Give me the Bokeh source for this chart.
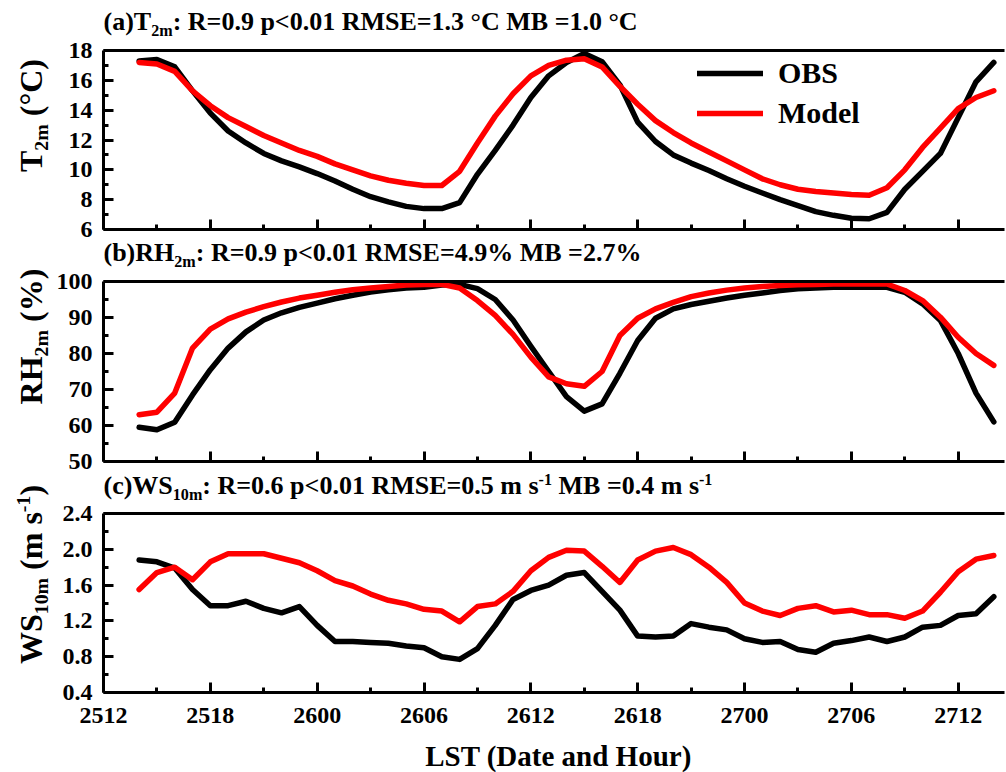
import math
from bokeh.plotting import figure
from bokeh.models import (Range1d, FixedTicker, Label, Legend, LegendItem,
                          NumeralTickFormatter, LinearAxis)
from bokeh.layouts import column, row
from bokeh.embed import file_html
from bokeh.resources import INLINE

# ---------------- data (hours after 25th 12:00 LST) ----------------
hours = [2, 3, 4, 5, 6, 7, 8, 9, 10, 11, 12, 13, 14, 15, 16, 17, 18, 19, 20, 21,
         22, 23, 24, 25, 26, 27, 28, 29, 30, 31, 32, 33, 34, 35, 36, 37, 38, 39, 40,
         41, 42, 43, 44, 45, 46, 47, 48, 49, 50]

t_obs = [17.3, 17.4, 16.9, 15.3, 13.8, 12.6, 11.8, 11.1, 10.6, 10.2, 9.75, 9.25, 8.7,
         8.2, 7.85, 7.55, 7.4, 7.4, 7.8, 9.7, 11.3, 13.0, 14.85, 16.3, 17.2, 17.8, 17.25,
         15.7, 13.2, 11.9, 11.0, 10.45, 9.95, 9.4, 8.9, 8.45, 8.0, 7.6, 7.2, 6.95, 6.75,
         6.72, 7.15, 8.7, 9.9, 11.1, 13.5, 15.9, 17.2]
t_mod = [17.2, 17.1, 16.6, 15.3, 14.3, 13.5, 12.9, 12.3, 11.8, 11.3, 10.9, 10.4, 10.0,
         9.6, 9.3, 9.1, 8.95, 8.95, 9.9, 11.8, 13.6, 15.1, 16.3, 17.0, 17.35, 17.45, 16.9,
         15.6, 14.4, 13.3, 12.5, 11.8, 11.2, 10.6, 10.0, 9.4, 9.0, 8.7, 8.55, 8.45, 8.35,
         8.3, 8.8, 10.0, 11.5, 12.8, 14.1, 14.85, 15.3]

rh_obs = [59.5, 58.8, 60.9, 68.5, 75.5, 81.5, 86.0, 89.3, 91.3, 92.8, 94.0, 95.2, 96.2,
          97.1, 97.7, 98.2, 98.4, 99.0, 99.2, 98.0, 95.0, 89.3, 82.0, 75.0, 68.0, 64.0,
          66.0, 74.5, 83.6, 89.8, 92.4, 93.6, 94.5, 95.4, 96.2, 96.8, 97.5, 98.0, 98.2,
          98.4, 98.4, 98.4, 98.4, 97.0, 93.8, 89.2, 80.0, 69.0, 61.0]
rh_mod = [63.0, 63.7, 69.0, 81.5, 86.8, 89.6, 91.5, 93.0, 94.3, 95.4, 96.2, 97.0, 97.7,
          98.2, 98.6, 99.0, 99.2, 99.2, 98.2, 94.7, 90.6, 85.3, 79.0, 73.5, 71.6, 70.9,
          75.0, 85.0, 89.8, 92.4, 94.2, 95.8, 96.8, 97.6, 98.2, 98.6, 98.9, 99.1, 99.2,
          99.3, 99.3, 99.3, 99.3, 97.5, 94.7, 90.1, 84.5, 80.0, 76.7]

ws_obs = [1.88, 1.86, 1.79, 1.55, 1.37, 1.37, 1.42, 1.34, 1.29, 1.36, 1.15, 0.97, 0.97,
          0.96, 0.95, 0.92, 0.90, 0.80, 0.77, 0.89, 1.15, 1.44, 1.54, 1.60, 1.71, 1.74,
          1.53, 1.32, 1.03, 1.02, 1.03, 1.17, 1.13, 1.10, 1.00, 0.96, 0.97, 0.88, 0.85,
          0.95, 0.98, 1.02, 0.97, 1.02, 1.13, 1.15, 1.26, 1.28, 1.47]
ws_mod = [1.55, 1.74, 1.80, 1.66, 1.86, 1.95, 1.95, 1.95, 1.90, 1.85, 1.76, 1.65, 1.59,
          1.50, 1.43, 1.39, 1.33, 1.31, 1.19, 1.36, 1.39, 1.53, 1.76, 1.91, 1.99, 1.98,
          1.81, 1.63, 1.88, 1.98, 2.02, 1.94, 1.80, 1.63, 1.40, 1.31, 1.26, 1.34, 1.37,
          1.30, 1.32, 1.27, 1.27, 1.23, 1.31, 1.52, 1.75, 1.89, 1.93]

x_tick_pos = [0, 6, 12, 18, 24, 30, 36, 42, 48]
x_tick_labels = ["2512", "2518", "2600", "2606", "2612", "2618", "2700", "2706", "2712"]
x_minor = [3, 9, 15, 21, 27, 33, 39, 45]

t_ticks = [6, 8, 10, 12, 14, 16, 18]
t_minor = [7, 9, 11, 13, 15, 17]
rh_ticks = [50, 60, 70, 80, 90, 100]
rh_minor = [55, 65, 75, 85, 95]
ws_ticks = [0.4, 0.8, 1.2, 1.6, 2.0, 2.4]
ws_minor = [0.6, 1.0, 1.4, 1.8, 2.2]

series_names = ["OBS", "Model"]
series_colors = ["#000000", "#ff0000"]

x_title = "LST (Date and Hour)"

# ---------------- styling helpers ----------------
FONT = "Liberation Serif"
WIDTH = 1006
HEIGHT = 772
YLAB_W = 52
MAIN_W = WIDTH - YLAB_W
FRAME_LEFT = 103
X_END = 50.6
MID = 0.34  # distance (em) from alphabetic baseline to the "middle" anchor

# Times-Bold advance widths (1/1000 em) for placing sub/superscripts
AW = {' ': 250, '(': 333, ')': 333, 'a': 500, 'b': 556, 'c': 444, 'd': 556, 'e': 444,
      'l': 278, 'm': 833, 'n': 556, 'o': 500, 'p': 556, 'r': 444, 's': 389, 't': 333,
      'u': 556, 'B': 667, 'C': 722, 'D': 722, 'E': 667, 'H': 778, 'L': 667, 'M': 944,
      'O': 778, 'R': 722, 'S': 556, 'T': 667, 'W': 1000, ':': 333, '=': 570, '.': 250,
      '<': 570, '%': 1000, '°': 400, '-': 333}


def text_w(s, size):
    return sum(AW.get(ch, 500) for ch in s) * size / 1000.0


def strip(w, h):
    s = figure(width=w, height=h, output_backend="svg", toolbar_location=None,
               x_range=Range1d(0, w), y_range=Range1d(0, h),
               x_axis_type=None, y_axis_type=None,
               min_border=0, min_border_left=0, min_border_right=0,
               min_border_top=0, min_border_bottom=0)
    s.outline_line_color = None
    s.background_fill_color = "white"
    s.border_fill_color = "white"
    return s


def rich(p, segs, x0, y0, size, rotated=False, center=False):
    """Place text segments (normal / sub / sup) one after another along a baseline."""
    total = sum(text_w(t, size if k == "n" else size * 0.62) for t, k in segs)
    pos = -total / 2 if center else 0.0
    for txt, kind in segs:
        if kind == "n":
            fs, off = size, 0.0
        elif kind == "sub":
            fs, off = size * 0.62, -0.2 * size
        else:
            fs, off = size * 0.62, 0.36 * size
        lead = len(txt) - len(txt.lstrip(" "))
        pos += text_w(" " * lead, fs)
        body = txt.strip(" ")
        up = off + MID * fs
        if rotated:
            lx, ly, ang = x0 - up, y0 + pos, math.pi / 2
        else:
            lx, ly, ang = x0 + pos, y0 + up, 0
        p.add_layout(Label(x=lx, y=ly, x_units="screen", y_units="screen", text=body,
                           angle=ang, text_font=FONT, text_font_style="bold",
                           text_font_size=f"{fs:.1f}px", text_color="black",
                           text_align="left", text_baseline="middle"))
        pos += text_w(txt.lstrip(" "), fs)


def style_axis(ax):
    ax.axis_line_width = 3
    ax.axis_line_color = "black"
    ax.major_tick_line_width = 3
    ax.minor_tick_line_width = 3
    ax.major_tick_in = 10
    ax.major_tick_out = 0
    ax.minor_tick_in = 5
    ax.minor_tick_out = 0
    ax.major_label_text_font = FONT
    ax.major_label_text_font_style = "bold"
    ax.major_label_text_font_size = "24px"
    ax.major_label_text_color = "black"


def make_panel(height, top_b, bottom, yr, yt, ym, fmt, show_x):
    p = figure(width=MAIN_W, height=height, output_backend="svg",
               toolbar_location=None,
               x_range=Range1d(0, X_END), y_range=Range1d(*yr),
               min_border_left=FRAME_LEFT - YLAB_W, min_border_right=2,
               min_border_top=top_b, min_border_bottom=bottom)
    p.outline_line_color = None
    p.grid.visible = False
    p.background_fill_color = "white"
    p.border_fill_color = "white"
    style_axis(p.xaxis[0])
    style_axis(p.yaxis[0])
    p.xaxis.ticker = FixedTicker(ticks=x_tick_pos, minor_ticks=x_minor)
    p.xaxis.major_label_overrides = dict(zip(x_tick_pos, x_tick_labels))
    if show_x:
        p.xaxis.major_label_standoff = 15
    else:
        p.xaxis.major_label_text_color = None
        p.xaxis.major_label_text_font_size = "1px"
        p.xaxis.major_label_standoff = 0
    p.yaxis.ticker = FixedTicker(ticks=yt, minor_ticks=ym)
    p.yaxis.major_label_standoff = 11
    if fmt:
        p.yaxis.formatter = NumeralTickFormatter(format=fmt)
    top = LinearAxis(ticker=FixedTicker(ticks=[]), axis_line_width=3,
                     axis_line_color="black", major_tick_out=0, major_tick_in=0,
                     minor_tick_out=0, minor_tick_in=0, major_label_standoff=0,
                     major_label_text_font_size="1px", major_label_text_color=None)
    p.add_layout(top, "above")
    return p


def add_lines(p, obs, mod):
    r1 = p.line(hours, obs, line_color=series_colors[0], line_width=5.5,
                line_join="round", line_cap="round")
    r2 = p.line(hours, mod, line_color=series_colors[1], line_width=5.5,
                line_join="round", line_cap="round")
    return r1, r2


TITLE_SIZE = 26
YLAB_SIZE = 32
TX = 0  # title strips' frames line up with the panels' frames (x = 103 px)

# ---------------- panel (a) ----------------
ta = strip(MAIN_W, 40)
rich(ta, [("(a)T", "n"), ("2m", "sub"),
          (": R=0.9 p<0.01 RMSE=1.3 °C MB =1.0 °C", "n")], TX, 10, TITLE_SIZE)
pa = make_panel(199, 10, 10, (6, 18), t_ticks, t_minor, None, False)
ra1, ra2 = add_lines(pa, t_obs, t_mod)
leg = Legend(items=[LegendItem(label=series_names[0], renderers=[ra1]),
                    LegendItem(label=series_names[1], renderers=[ra2])],
             location=(594, 99), orientation="vertical",
             glyph_width=66, glyph_height=30, label_height=30, label_standoff=15,
             spacing=6, padding=0, margin=0, border_line_color=None,
             background_fill_alpha=0, label_text_font=FONT,
             label_text_font_style="bold", label_text_font_size="30px",
             label_text_color="black")
pa.add_layout(leg)

# ---------------- panel (b) ----------------
tb = strip(MAIN_W, 32)
rich(tb, [("(b)RH", "n"), ("2m", "sub"),
          (": R=0.9 p<0.01 RMSE=4.9% MB =2.7%", "n")], TX, 10, TITLE_SIZE)
pb = make_panel(200, 10, 10, (50, 100), rh_ticks, rh_minor, None, False)
add_lines(pb, rh_obs, rh_mod)

# ---------------- panel (c) ----------------
tc = strip(MAIN_W, 32)
rich(tc, [("(c)WS", "n"), ("10m", "sub"), (": R=0.6 p<0.01 RMSE=0.5 m s", "n"),
          ("-1", "sup"), (" MB =0.4 m s", "n"), ("-1", "sup")], TX, 9, TITLE_SIZE)
pc = make_panel(235, 10, 46, (0.4, 2.4), ws_ticks, ws_minor, "0.0", True)
add_lines(pc, ws_obs, ws_mod)

# x-axis title strip
xt = strip(MAIN_W, 34)
xt.add_layout(Label(x=558 - FRAME_LEFT, y=7 + MID * 29, x_units="screen",
                    y_units="screen", text=x_title, text_font=FONT,
                    text_font_style="bold", text_font_size="29px", text_color="black",
                    text_align="center", text_baseline="middle"))

# y-axis titles: one tall strip on the left (y measured from the page bottom)
yl = strip(YLAB_W, HEIGHT)
rich(yl, [("T", "n"), ("2m", "sub"), (" (°C)", "n")], 41, HEIGHT - 115,
     YLAB_SIZE, rotated=True, center=True)
rich(yl, [("RH", "n"), ("2m", "sub"), (" (%)", "n")], 41, HEIGHT - 336,
     YLAB_SIZE, rotated=True, center=True)
rich(yl, [("WS", "n"), ("10m", "sub"), (" (m s", "n"), ("-1", "sup"), (")", "n")],
     41, HEIGHT - 574, YLAB_SIZE, rotated=True, center=True)

right = column(ta, pa, tb, pb, tc, pc, xt, spacing=0)
layout = row(yl, right, spacing=0)
open("out.html", "w").write(file_html(layout, INLINE))
